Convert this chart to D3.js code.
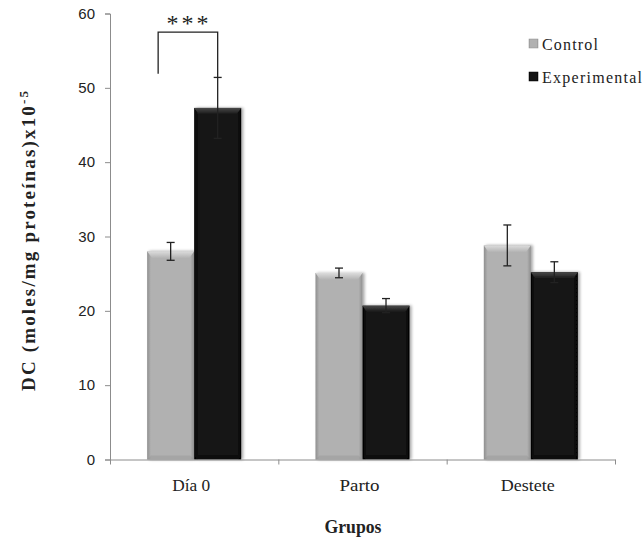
<!DOCTYPE html>
<html>
<head>
<meta charset="utf-8">
<script src="https://cdn.jsdelivr.net/npm/d3@7"></script>
<style>
  html, body { margin: 0; padding: 0; background: #fff; }
  svg { display: block; }
</style>
</head>
<body>
<div id="chart"></div>
<script>
// ---- data ----
const categories = ["Día 0", "Parto", "Destete"];
const seriesNames = ["Control", "Experimental"];
const controlValues = [28.0, 25.1, 28.8];
const controlErrors = [1.2, 0.65, 2.75];
const experimentalValues = [47.3, 20.7, 25.2];
const experimentalErrors = [4.1, 0.95, 1.4];
const yTicks = [0, 10, 20, 30, 40, 50, 60];
const significance = { category: "Día 0", label: "***" };

// ---- layout ----
const W = 644, H = 541;
const margin = { left: 110, right: 29, top: 14, bottom: 81 };
const svg = d3.select("#chart").append("svg").attr("width", W).attr("height", H);
const serif = "'Liberation Serif', 'Times New Roman', serif";

const x0 = d3.scaleBand().domain(categories).range([margin.left, W - margin.right]).padding(0);
const x1 = d3.scaleBand().domain(seriesNames).range([0, x0.bandwidth()]).paddingInner(0).paddingOuter(0.79);
const y = d3.scaleLinear().domain([0, 60]).range([H - margin.bottom - 0.5, margin.top - 0.5]);

const data = categories.map((c, i) => ({
  cat: c,
  bars: [
    { s: "Control", v: controlValues[i], e: controlErrors[i] },
    { s: "Experimental", v: experimentalValues[i], e: experimentalErrors[i] }
  ]
}));

const colors = {
  Control: { base: "#b1b1b1", top: "#dcdcdc", edge: "#8f8f8f" },
  Experimental: { base: "#131313", top: "#4a4a4a", edge: "#000000" }
};

// gradients
const defs = svg.append("defs");
seriesNames.forEach(s => {
  const g = defs.append("linearGradient").attr("id", "grad-" + s).attr("x1", 0).attr("x2", 1).attr("y1", 0).attr("y2", 0);
  g.append("stop").attr("offset", "0%").attr("stop-color", colors[s].edge);
  g.append("stop").attr("offset", "8%").attr("stop-color", colors[s].base);
  g.append("stop").attr("offset", "92%").attr("stop-color", colors[s].base);
  g.append("stop").attr("offset", "100%").attr("stop-color", colors[s].edge);
  const t = defs.append("linearGradient").attr("id", "top-" + s).attr("x1", 0).attr("x2", 0).attr("y1", 0).attr("y2", 1);
  t.append("stop").attr("offset", "0%").attr("stop-color", colors[s].top);
  t.append("stop").attr("offset", "100%").attr("stop-color", colors[s].base);
});
const flt = defs.append("filter").attr("id", "shadow").attr("x", "-20%").attr("y", "-20%").attr("width", "150%").attr("height", "140%");
flt.append("feGaussianBlur").attr("in", "SourceAlpha").attr("stdDeviation", 1.5).attr("result", "b");
flt.append("feOffset").attr("in", "b").attr("dx", 2).attr("dy", 0).attr("result", "o");
flt.append("feComponentTransfer").attr("in", "o").attr("result", "o2")
  .append("feFuncA").attr("type", "linear").attr("slope", 0.35);
const merge = flt.append("feMerge");
merge.append("feMergeNode").attr("in", "o2");
merge.append("feMergeNode").attr("in", "SourceGraphic");

// ---- bars ----
const groups = svg.append("g").selectAll("g").data(data).join("g")
  .attr("transform", d => `translate(${x0(d.cat)},0)`);

const bar = groups.selectAll("g.bar").data(d => d.bars).join("g").attr("class", "bar")
  .attr("filter", "url(#shadow)");

bar.append("rect")
  .attr("x", d => x1(d.s))
  .attr("y", d => y(d.v))
  .attr("width", x1.bandwidth())
  .attr("height", d => y(0) - y(d.v))
  .attr("fill", d => `url(#grad-${d.s})`);

// top bevel
bar.append("path")
  .attr("d", d => {
    const xa = x1(d.s), xb = xa + x1.bandwidth(), yt = y(d.v), h = 7;
    return `M${xa},${yt}L${xb},${yt}L${xb - 5},${yt + h}L${xa + 5},${yt + h}Z`;
  })
  .attr("fill", d => `url(#top-${d.s})`);
// bottom bevel
bar.append("path")
  .attr("d", d => {
    const xa = x1(d.s), xb = xa + x1.bandwidth(), yb = y(0), h = 4;
    return `M${xa},${yb}L${xb},${yb}L${xb - 4},${yb - h}L${xa + 4},${yb - h}Z`;
  })
  .attr("fill", d => colors[d.s].edge).attr("opacity", 0.35);

// error bars
const err = groups.selectAll("g.err").data(d => d.bars).join("g").attr("class", "err")
  .attr("stroke", "#222").attr("stroke-width", 1.3);
err.append("line")
  .attr("x1", d => x1(d.s) + x1.bandwidth() / 2).attr("x2", d => x1(d.s) + x1.bandwidth() / 2)
  .attr("y1", d => y(d.v + d.e)).attr("y2", d => y(d.v - d.e));
err.append("line")
  .attr("x1", d => x1(d.s) + x1.bandwidth() / 2 - 4).attr("x2", d => x1(d.s) + x1.bandwidth() / 2 + 4)
  .attr("y1", d => y(d.v + d.e)).attr("y2", d => y(d.v + d.e));
err.append("line")
  .attr("x1", d => x1(d.s) + x1.bandwidth() / 2 - 4).attr("x2", d => x1(d.s) + x1.bandwidth() / 2 + 4)
  .attr("y1", d => y(d.v - d.e)).attr("y2", d => y(d.v - d.e));

// ---- axes ----
const axisColor = "#8c8c8c";
const yAxis = svg.append("g").attr("transform", `translate(${margin.left},0)`)
  .call(d3.axisLeft(y).tickValues(yTicks).tickSize(5).tickPadding(10));
yAxis.select(".domain").attr("stroke", axisColor);
yAxis.selectAll(".tick line").attr("stroke", axisColor);
yAxis.selectAll(".tick text").attr("fill", "#222").attr("font-family", "'Liberation Sans', Arial, sans-serif").attr("font-size", 15);

const xAxisScale = d3.scalePoint().domain(d3.range(categories.length + 1)).range([margin.left, W - margin.right]);
const xAxis = svg.append("g").attr("transform", `translate(0,${y(0)})`)
  .call(d3.axisBottom(xAxisScale).tickSize(5).tickSizeOuter(0).tickFormat(""));
xAxis.select(".domain").attr("stroke", axisColor);
xAxis.selectAll(".tick line").attr("stroke", axisColor);

const catWidths = { "Día 0": 38, "Parto": 40, "Destete": 54 };
svg.append("g").selectAll("text").data(categories).join("text")
  .attr("x", d => x0(d) + x0.bandwidth() / 2 - 3)
  .attr("y", y(0) + 31)
  .attr("text-anchor", "middle")
  .attr("font-family", serif)
  .attr("font-size", 17).attr("fill", "#222")
  .attr("textLength", d => catWidths[d]).attr("lengthAdjust", "spacingAndGlyphs")
  .text(d => d);

// axis titles
svg.append("text")
  .attr("x", 353).attr("y", 533)
  .attr("text-anchor", "middle")
  .attr("font-family", serif)
  .attr("font-weight", "bold").attr("font-size", 18).attr("fill", "#222")
  .attr("textLength", 57).attr("lengthAdjust", "spacingAndGlyphs")
  .text("Grupos");

const yt = svg.append("text")
  .attr("transform", `translate(35,241) rotate(-90)`)
  .attr("text-anchor", "middle")
  .attr("font-family", serif)
  .attr("font-weight", "bold").attr("font-size", 19).attr("fill", "#222")
  .attr("textLength", 300).attr("lengthAdjust", "spacing");
yt.append("tspan").text("DC (moles/mg proteínas)x10");
yt.append("tspan").attr("baseline-shift", "super").attr("font-size", 13).text("-5");

// ---- significance bracket ----
const sigCat = significance.category;
const sigData = data.find(d => d.cat === sigCat);
const lx = x0(sigCat) + x1("Control") + 11;
const ex = x0(sigCat) + x1("Experimental") + x1.bandwidth() / 2;
const brY = y(57.5);
const sigG = svg.append("g").attr("stroke", "#222").attr("stroke-width", 1.3).attr("fill", "none");
sigG.append("path")
  .attr("d", `M${lx},${y(51.9)}V${brY}H${ex}V${y(sigData.bars[1].v + sigData.bars[1].e)}`);
svg.append("text")
  .attr("x", (lx + ex) / 2 + 1)
  .attr("y", brY - 1)
  .attr("text-anchor", "middle")
  .attr("font-family", serif)
  .attr("font-size", 24).attr("letter-spacing", 3).attr("fill", "#222")
  .text(significance.label);

// ---- legend ----
const legendWidths = { Control: 56, Experimental: 100 };
const legend = svg.append("g").attr("transform", "translate(529,39)");
const li = legend.selectAll("g").data(seriesNames).join("g")
  .attr("transform", (d, i) => `translate(0,${i * 33})`);
li.append("rect").attr("width", 9).attr("height", 9)
  .attr("fill", d => `url(#grad-${d})`).attr("stroke", d => colors[d].edge).attr("stroke-width", 0.5);
li.append("text").attr("x", 13).attr("y", 11)
  .attr("font-family", serif)
  .attr("font-size", 16).attr("fill", "#222")
  .attr("textLength", d => legendWidths[d]).attr("lengthAdjust", "spacing")
  .text(d => d);
</script>
</body>
</html>
